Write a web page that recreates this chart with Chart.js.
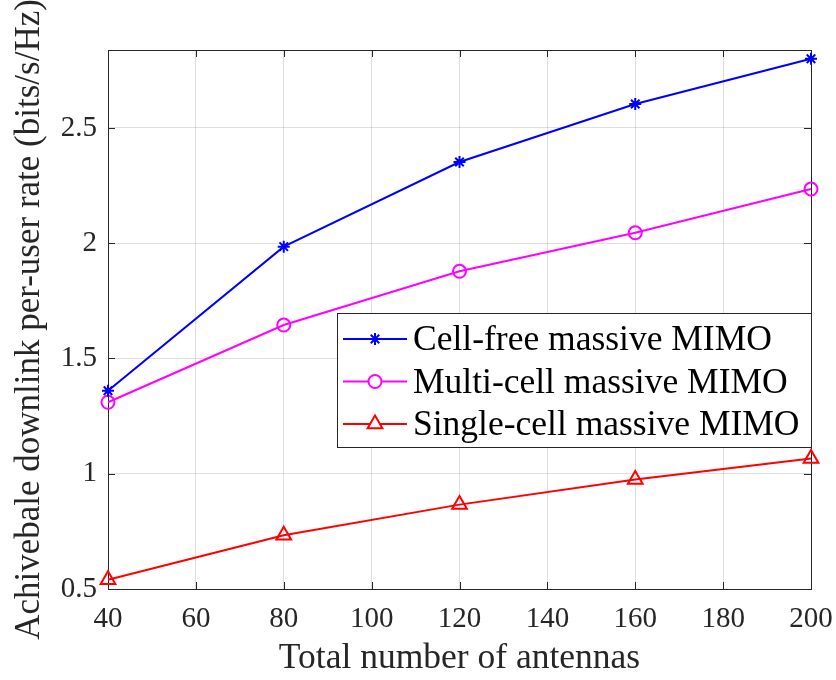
<!DOCTYPE html>
<html>
<head>
<meta charset="utf-8">
<title>Per-user rate vs. number of antennas</title>
<script src="https://cdn.jsdelivr.net/npm/chart.js@4"></script>
<style>
  html, body { margin: 0; padding: 0; background: #fff; }
  #wrap { width: 836px; height: 680px; position: relative; }
</style>
</head>
<body>
<div id="wrap"><canvas id="rate-chart"></canvas></div>
<script>
// total antennas on the x axis, one rate per scheme
const ANTENNAS = [40, 80, 120, 160, 200];
const CELL_FREE = [1.36, 1.985, 2.352, 2.604, 2.80];
const MULTI_CELL = [1.31, 1.645, 1.878, 2.045, 2.235];
const SINGLE_CELL = [0.54, 0.733, 0.866, 0.975, 1.066];

const X_TICKS = [40, 60, 80, 100, 120, 140, 160, 180, 200];
const Y_TICKS = [0.5, 1, 1.5, 2, 2.5];

const SERIES_LABELS = ["Cell-free massive MIMO", "Multi-cell massive MIMO", "Single-cell massive MIMO"];

const SERIF = '"Liberation Serif", "Times New Roman", serif';
const AXIS_COLOR = "#262626";
const GRID_COLOR = "rgba(38,38,38,0.15)";

function series(label, values, color, style, radius) {
  return {
    label,
    data: ANTENNAS.map((x, i) => ({ x, y: values[i] })),
    borderColor: color,
    borderWidth: 2,
    pointStyle: style,
    pointRadius: radius,
    pointHoverRadius: radius,
    pointBorderColor: color,
    pointBackgroundColor: "rgba(0,0,0,0)",
    pointBorderWidth: 2,
    tension: 0,
    clip: false,
  };
}

// box around the plot with inward tick marks, drawn under the lines
const axesBox = {
  id: "axesBox",
  beforeDatasetsDraw(chart) {
    const { ctx, chartArea: a, scales } = chart;
    const len = 7;
    ctx.save();
    ctx.strokeStyle = AXIS_COLOR;
    ctx.lineWidth = 1;
    ctx.beginPath();
    for (const v of X_TICKS) {
      const px = Math.round(scales.x.getPixelForValue(v)) + 0.5;
      ctx.moveTo(px, a.bottom); ctx.lineTo(px, a.bottom - len);
      ctx.moveTo(px, a.top); ctx.lineTo(px, a.top + len);
    }
    for (const v of Y_TICKS) {
      const py = Math.round(scales.y.getPixelForValue(v)) + 0.5;
      ctx.moveTo(a.left, py); ctx.lineTo(a.left + len, py);
      ctx.moveTo(a.right, py); ctx.lineTo(a.right - len, py);
    }
    ctx.stroke();
    ctx.strokeRect(Math.round(a.left) + 0.5, Math.round(a.top) + 0.5,
      Math.round(a.right - a.left), Math.round(a.bottom - a.top));
    ctx.restore();
  },
};

// boxed legend sitting inside the plot, right of centre
const boxLegend = {
  id: "boxLegend",
  afterDatasetsDraw(chart) {
    const { ctx } = chart;
    const box = { x: 337.5, y: 313.5, w: 474, h: 134 };
    ctx.save();
    ctx.fillStyle = "#fff";
    ctx.fillRect(box.x, box.y, box.w, box.h);
    ctx.strokeStyle = AXIS_COLOR;
    ctx.lineWidth = 1;
    ctx.strokeRect(box.x, box.y, box.w, box.h);

    ctx.font = "35.5px " + SERIF;
    ctx.textBaseline = "alphabetic";
    ctx.textAlign = "left";
    chart.data.datasets.forEach((ds, i) => {
      const base = 350 + i * 42.5;
      const cy = base - 11;
      ctx.strokeStyle = ds.borderColor;
      ctx.lineWidth = ds.borderWidth;
      ctx.beginPath();
      ctx.moveTo(343, cy);
      ctx.lineTo(407, cy);
      ctx.stroke();
      ctx.fillStyle = "#fff";
      ctx.lineWidth = ds.pointBorderWidth;
      Chart.helpers.drawPoint(ctx, {
        pointStyle: ds.pointStyle,
        radius: ds.pointRadius,
        rotation: 0,
        borderWidth: ds.pointBorderWidth,
      }, 375, cy);
      ctx.fillStyle = "#000";
      ctx.fillText(SERIES_LABELS[i], 413, base);
    });
    ctx.restore();
  },
};

new Chart(document.getElementById("rate-chart"), {
  type: "line",
  data: {
    datasets: [
      series(SERIES_LABELS[0], CELL_FREE, "#0000ff", "star", 6),
      series(SERIES_LABELS[1], MULTI_CELL, "#ff00ff", "circle", 6.5),
      series(SERIES_LABELS[2], SINGLE_CELL, "#ff0000", "triangle", 8.5),
    ],
  },
  options: {
    responsive: true,
    maintainAspectRatio: false,
    animation: false,
    layout: { padding: { top: 50, right: 25, left: 0, bottom: 0 } },
    plugins: {
      legend: { display: false },
      tooltip: { enabled: false },
    },
    scales: {
      x: {
        type: "linear",
        min: 40,
        max: 200,
        afterBuildTicks: s => { s.ticks = X_TICKS.map(value => ({ value })); },
        afterFit: s => { s.height = 91; s.paddingLeft = 0; s.paddingRight = 0; },
        grid: { color: GRID_COLOR, lineWidth: 1, drawTicks: false },
        border: { display: false },
        ticks: {
          color: AXIS_COLOR,
          padding: 13,
          maxRotation: 0,
          font: { family: SERIF, size: 29 },
        },
        title: {
          display: true,
          text: "Total number of antennas",
          color: AXIS_COLOR,
          padding: { top: 0, bottom: 0 },
          font: { family: SERIF, size: 35.5, lineHeight: 1.2 },
        },
      },
      y: {
        type: "linear",
        min: 0.5,
        max: 2.838,
        afterBuildTicks: s => { s.ticks = Y_TICKS.map(value => ({ value })); },
        afterFit: s => { s.width = 108; s.paddingTop = 0; s.paddingBottom = 0; },
        grid: { color: GRID_COLOR, lineWidth: 1, drawTicks: false },
        border: { display: false },
        ticks: {
          color: AXIS_COLOR,
          padding: 11,
          callback: v => String(v),
          font: { family: SERIF, size: 29 },
        },
        title: {
          display: true,
          text: "Achivebale downlink per-user rate (bits/s/Hz)",
          color: AXIS_COLOR,
          padding: { top: 9, bottom: 0 },
          font: { family: SERIF, size: 35, lineHeight: 1.2 },
        },
      },
    },
  },
  plugins: [axesBox, boxLegend],
});
</script>
</body>
</html>
